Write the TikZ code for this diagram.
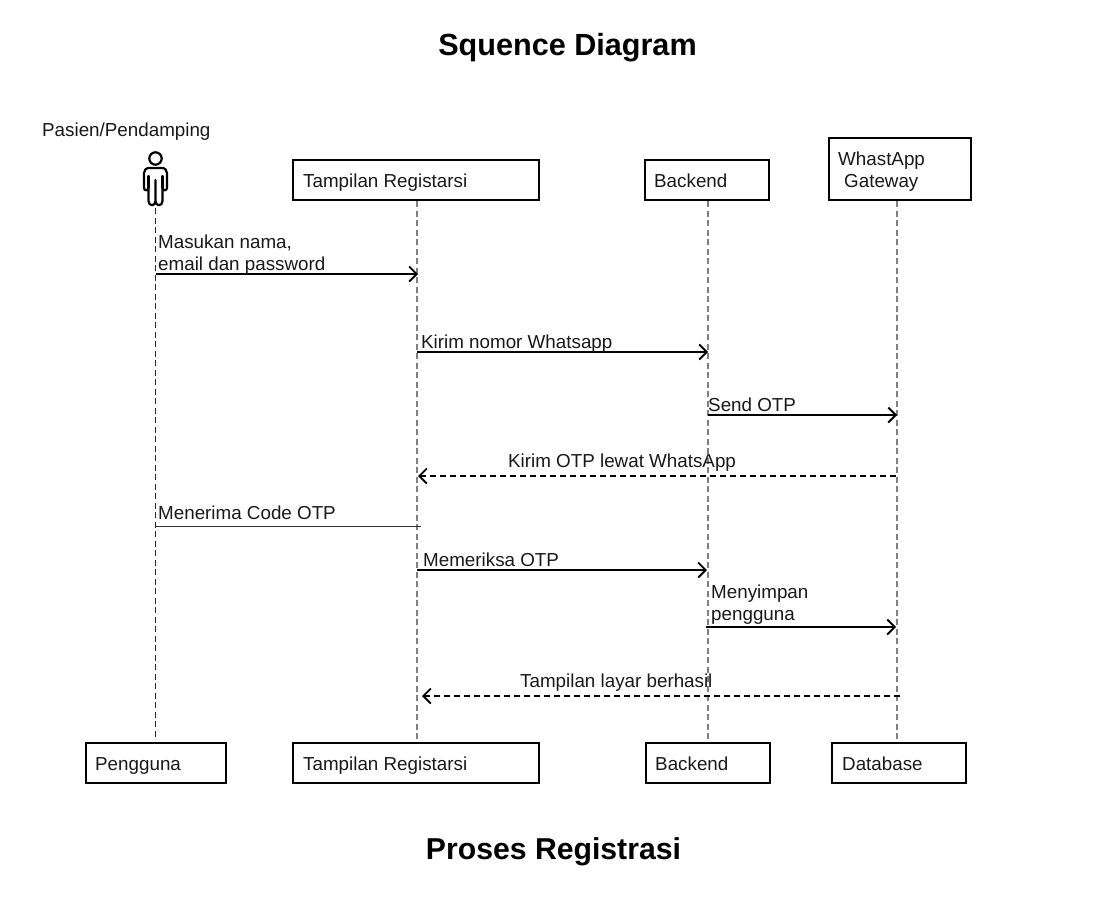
\documentclass[tikz,border=0pt]{standalone}
\usepackage{fontspec}
\setmainfont{Liberation Sans}
\usetikzlibrary{arrows.meta}
\newcommand{\lbl}{\fontsize{18.8}{22}\selectfont}
\tikzset{
 x=1pt,y=-1pt,
 box/.style={draw=black,line width=2pt,minimum height=40pt,anchor=north west,inner sep=0pt,text height=0pt},
 boxtext/.style={anchor=base west,inner sep=0pt,font=\lbl,text=black!90},
 msgtext/.style={anchor=base west,inner sep=0pt,font=\lbl,text=black!90,align=left},
 titletop/.style={anchor=base,inner sep=0pt,font=\fontsize{30.6}{36}\selectfont\bfseries},
 titlebot/.style={anchor=base,inner sep=0pt,font=\fontsize{30.2}{36}\selectfont\bfseries},
 life/.style={draw=black!50,line width=1.1pt,dash pattern=on 6pt off 3.5pt},
 lifeblack/.style={draw=black!85,line width=1.1pt,dash pattern=on 6pt off 3.5pt},
 msg/.style={draw=black,line width=1.8pt,-{Straight Barb[length=7.5pt,width=15pt,line width=1.8pt]}},
 ret/.style={draw=black,line width=1.7pt,dash pattern=on 6pt off 4pt,-{Straight Barb[length=7.5pt,width=15pt,line width=1.8pt,sep=0pt]}},
}
\begin{document}
\begin{tikzpicture}
\useasboundingbox (0,0) rectangle (1094,919);
\fill[white] (0,0) rectangle (1094,919);
% titles
\node[titletop] (t1) at (567.5,55) {Squence Diagram};
\node[titlebot] (t2) at (553.5,859) {Proses Registrasi};
% actor
\node[msgtext] (actorlabel) at (42,136.5) {Pasien/Pendamping};
\coordinate (actor) at (155,206);
\draw[black,line width=2.2pt,line join=round] (155.5,158.5) circle (6.2);
\draw[black,line width=2.2pt,line join=round,line cap=round]
 (149.2,168) -- (161.5,168) .. controls (165,168) and (167,170) .. (167,173) -- (167,188)
 .. controls (167,191) and (162.5,191) .. (162.5,188) -- (162.5,201)
 .. controls (162.5,206.5) and (155.5,206.5) .. (155.5,201) -- (155.5,180)
 (155.5,201) .. controls (155.5,206.5) and (148.5,206.5) .. (148.5,201) -- (148.5,188)
 .. controls (148.5,191) and (144,191) .. (144,188) -- (144,173)
 .. controls (144,170) and (146,168) .. (149.2,168);
\draw[black,line width=2.2pt,line cap=round] (148.5,176) -- (148.5,188) (162.5,176) -- (162.5,188);
% top boxes
\node[box,minimum width=246pt] (tr) at (292.2,159.2) {};
\node[box,minimum width=124pt] (tb) at (643.7,159.2) {};
\node[box,minimum width=142.5pt,minimum height=62pt] (tw) at (827.5,137.2) {};
\node[boxtext] (trt) at (303,187) {Tampilan Registarsi};
\node[boxtext] (tbt) at (654,187) {Backend};
\node[boxtext] (twt1) at (838,165) {WhastApp};
\node[boxtext] (twt2) at (844,187) {Gateway};
% bottom boxes
\node[box,minimum width=140pt] (bp) at (84.7,742.2) {};
\node[box,minimum width=246pt] (br) at (292.2,742.2) {};
\node[box,minimum width=124pt] (bb) at (645.2,742.2) {};
\node[box,minimum width=134pt] (bd) at (831.2,742.2) {};
\node[boxtext] (bpt) at (95,770) {Pengguna};
\node[boxtext] (brt) at (303,770) {Tampilan Registarsi};
\node[boxtext] (bbt) at (655,770) {Backend};
\node[boxtext] (bdt) at (842,770) {Database};
% lifelines
\coordinate (a1) at (155.5,208);
\coordinate (a2) at (155.5,740);
\coordinate (r1) at (417,201);
\coordinate (r2) at (417,740);
\coordinate (k1) at (708,201);
\coordinate (k2) at (708,740);
\coordinate (w1) at (897,201);
\coordinate (w2) at (897,740);
\draw[lifeblack] (a1) -- (a2);
\draw[life] (r1) -- (r2);
\draw[life] (k1) -- (k2);
\draw[life] (w1) -- (w2);
% messages
\coordinate (m1s) at (156,274); \coordinate (m1e) at (418,274);
\draw[msg] (m1s) -- (m1e);
\node[msgtext] (m1a) at (158,248) {Masukan nama,};
\node[msgtext] (m1b) at (158,270) {email dan password};
\coordinate (m2s) at (417,352); \coordinate (m2e) at (708,352);
\draw[msg] (m2s) -- (m2e);
\node[msgtext] (m2) at (421,348) {Kirim nomor Whatsapp};
\coordinate (m3s) at (708,415); \coordinate (m3e) at (897,415);
\draw[msg] (m3s) -- (m3e);
\node[msgtext] (m3) at (708,411) {Send OTP};
\coordinate (m4s) at (896,476); \coordinate (m4e) at (418,476);
\draw[ret] (m4s) -- (m4e);
\node[msgtext] (m4) at (508,467) {Kirim OTP lewat WhatsApp};
\coordinate (m5s) at (156,526.5); \coordinate (m5e) at (421,526.5);
\draw[black!80,line width=1pt] (m5s) -- (m5e);
\node[msgtext] (m5) at (158,519) {Menerima Code OTP};
\coordinate (m6s) at (417,570); \coordinate (m6e) at (707,570);
\draw[msg] (m6s) -- (m6e);
\node[msgtext] (m6) at (423,566) {Memeriksa OTP};
\coordinate (m7s) at (706,627); \coordinate (m7e) at (896,627);
\draw[msg] (m7s) -- (m7e);
\node[msgtext] (m7a) at (711,598) {Menyimpan};
\node[msgtext] (m7b) at (711,620) {pengguna};
\coordinate (m8s) at (900,696); \coordinate (m8e) at (422,696);
\draw[ret] (m8s) -- (m8e);
\node[msgtext] (m8) at (520,687) {Tampilan layar berhasil};
\end{tikzpicture}
\end{document}
